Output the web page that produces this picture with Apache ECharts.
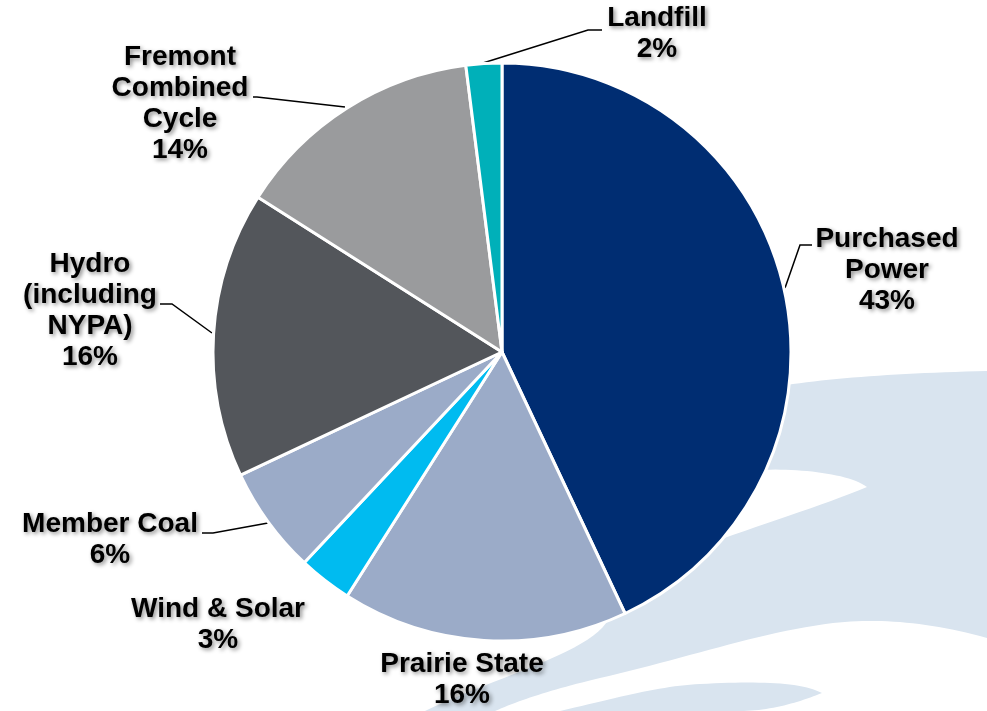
<!DOCTYPE html>
<html>
<head>
<meta charset="utf-8">
<script src="https://cdn.jsdelivr.net/npm/echarts@6/dist/echarts.min.js"></script>
<style>
  html, body { margin: 0; padding: 0; background: #fff; }
  #main { width: 987px; height: 711px; }
</style>
</head>
<body>
<div id="main"></div>
<script>
// 数据（顺时针，从12点方向开始）
const names = ["Purchased Power", "Prairie State", "Wind & Solar", "Member Coal",
  "Hydro (including NYPA)", "Fremont Combined Cycle", "Landfill"];
const labelText = ["Purchased\nPower", "Prairie State", "Wind & Solar", "Member Coal",
  "Hydro\n(including\nNYPA)", "Fremont\nCombined\nCycle", "Landfill"];
const shares = [43, 16, 3, 6, 16, 14, 2];
const colors = ["#002D72", "#9BABC8", "#00BBF0", "#9BABC8", "#53565B", "#9A9B9D", "#00B0B9"];

// 标签位置（中心点）和引线
const labelPos = [
  [887, 270], [462, 680], [218, 625], [110, 540], [90, 311], [180, 104], [657, 34]
];
const leaderLines = [
  [[785, 288], [800, 245], [812, 245]],
  null,
  null,
  [[268, 523], [213, 533], [202, 533]],
  [[212, 333], [172, 304], [160, 304]],
  [[345, 107], [257, 97], [253, 97]],
  [[483, 63], [588, 30], [602, 30]]
];

// 背景弧线：把贝塞尔曲线采样成多边形点
function bez(p0, p1, p2, p3, n) {
  const pts = [];
  for (let k = 0; k <= n; k++) {
    const t = k / n, u = 1 - t;
    pts.push([
      u * u * u * p0[0] + 3 * u * u * t * p1[0] + 3 * u * t * t * p2[0] + t * t * t * p3[0],
      u * u * u * p0[1] + 3 * u * u * t * p1[1] + 3 * u * t * t * p2[1] + t * t * t * p3[1]
    ]);
  }
  return pts;
}
function shape(segs) {
  let pts = [];
  segs.forEach((s) => { pts = pts.concat(s.length === 4 ? bez(s[0], s[1], s[2], s[3], 24) : s); });
  return pts;
}

const bgColor = "#D9E4EF";
const bgShapes = [
  { fill: bgColor, pts: shape([
    [[987, 371], [900, 373], [830, 378], [780, 386]],
    [[560, 430], [610, 615]],
    [[610, 615], [600, 650], [500, 675], [425, 711]],
    [[987, 711]]
  ]) },
  { fill: "#ffffff", pts: shape([
    [[867, 487], [850, 474], [800, 468], [760, 470]],
    [[600, 482], [620, 580]],
    [[620, 580], [690, 545], [800, 515], [867, 487]]
  ]) },
  { fill: "#ffffff", pts: shape([
    [[987, 638], [930, 622], [880, 618], [833, 623]],
    [[833, 623], [760, 632], [680, 660], [600, 678]],
    [[600, 678], [550, 690], [520, 700], [495, 711]],
    [[987, 711]]
  ]) },
  { fill: bgColor, pts: shape([
    [[560, 711], [620, 697], [660, 686], [700, 684]],
    [[700, 684], [760, 681], [800, 682], [822, 693]],
    [[822, 693], [800, 702], [770, 711], [740, 711]]
  ]) }
];

const myChart = echarts.init(document.getElementById("main"));

myChart.setOption({
  backgroundColor: "#ffffff",
  animation: false,
  graphic: {
    elements: bgShapes.map((s, i) => ({
      type: "polygon",
      z: -10 + i,
      silent: true,
      shape: { points: s.pts },
      style: { fill: s.fill }
    }))
  },
  series: [
    {
      type: "pie",
      center: [502, 352],
      radius: 289,
      startAngle: 90,
      clockwise: true,
      itemStyle: {
        borderColor: "#ffffff",
        borderWidth: 3
      },
      label: {
        show: true,
        formatter: (p) => labelText[p.dataIndex] + "\n" + p.value + "%",
        fontFamily: "Liberation Sans, Arial, sans-serif",
        fontWeight: "bold",
        fontSize: 28,
        lineHeight: 31,
        color: "#000",
        align: "center",
        textShadowColor: "rgba(0,0,0,0.45)",
        textShadowBlur: 4,
        textShadowOffsetX: 2,
        textShadowOffsetY: 2
      },
      labelLine: {
        show: true,
        lineStyle: { color: "#000", width: 1.5 }
      },
      labelLayout: (params) => {
        const i = params.dataIndex;
        const out = {
          x: labelPos[i][0],
          y: labelPos[i][1],
          align: "center",
          verticalAlign: "middle"
        };
        if (leaderLines[i]) out.labelLinePoints = leaderLines[i];
        return out;
      },
      emphasis: { disabled: true },
      data: names.map((n, i) => ({
        name: n,
        value: shares[i],
        itemStyle: { color: colors[i] },
        labelLine: { show: !!leaderLines[i] }
      }))
    }
  ]
});
</script>
</body>
</html>
